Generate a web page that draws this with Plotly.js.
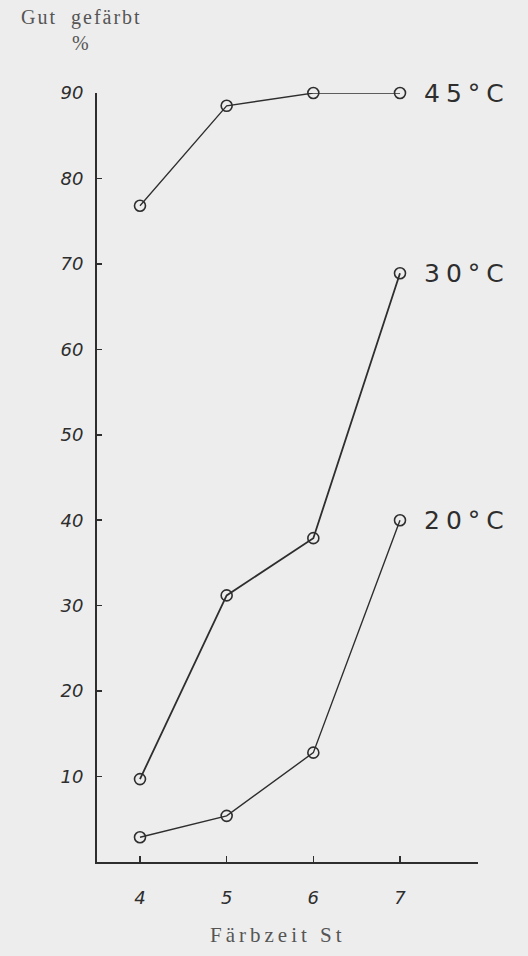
<!DOCTYPE html>
<html>
<head>
<meta charset="utf-8">
<script src="https://cdn.plot.ly/plotly-3.0.1.min.js"></script>
<style>
html,body{margin:0;padding:0;background:#ededed;}
.annotation-text.series{letter-spacing:6px;}
.annotation-text.ttl{letter-spacing:2px;}
.annotation-text.xttl{letter-spacing:4px;}
</style>
</head>
<body>
<div id="chart" style="width:528px;height:956px;"></div>
<script>
const hours = [4, 5, 6, 7];
const xTickLabels = ["4", "5", "6", "7"];
const yTickValues = [10, 20, 30, 40, 50, 60, 70, 80, 90];
const yTickLabels = ["10", "20", "30", "40", "50", "60", "70", "80", "90"];
const seriesNames = ["45°C", "30°C", "20°C"];
const dyed45 = [76.8, 88.5, 90, 90];
const dyed30 = [9.7, 31.2, 37.9, 68.9];
const dyed20 = [2.9, 5.4, 12.8, 40.0];
const yTitle = "Gut  gefärbt<br>%";
const xTitle = "Färbzeit St";

const ink = "#2e2e2e";
const hand = {family: "DejaVu Sans", size: 18, color: ink, style: "italic"};
function trace(y, w, name) {
  return {
    x: hours, y: y, name: name, type: "scatter", mode: "lines+markers",
    line: {color: ink, width: w},
    marker: {symbol: "circle-open", size: 11, color: ink, line: {width: 1.6, color: ink}},
    cliponaxis: false, showlegend: false, hoverinfo: "none"
  };
}
const data = [trace(dyed45, 1.3, seriesNames[0]), trace(dyed30, 1.8, seriesNames[1]), trace(dyed20, 1.4, seriesNames[2])];
const seriesVals = [dyed45, dyed30, dyed20];
const annotations = seriesNames.map((n, i) => ({
  x: hours[3], y: seriesVals[i][3], xref: "x", yref: "y", text: n, showarrow: false,
  xanchor: "left", yanchor: "middle", xshift: 34,
  font: {family: "DejaVu Sans", size: 25, color: ink}
}));
annotations.push({
  x: -0.04, y: 1.082, xref: "paper", yref: "paper", text: yTitle, showarrow: false,
  xanchor: "center", yanchor: "middle", align: "center",
  font: {family: "Liberation Serif", size: 20, color: "#555"}
});
annotations.push({
  x: 0.475, y: -0.095, xref: "paper", yref: "paper", text: xTitle, showarrow: false,
  xanchor: "center", yanchor: "middle",
  font: {family: "Liberation Serif", size: 21, color: "#555"}
});
const layout = {
  width: 528, height: 956,
  paper_bgcolor: "#ededed", plot_bgcolor: "#ededed",
  margin: {l: 97, r: 50, t: 93, b: 94},
  xaxis: {
    range: [3.504, 7.9], tickvals: hours, ticktext: xTickLabels,
    showgrid: false, zeroline: false, showline: true, linecolor: ink, linewidth: 2,
    ticks: "inside", ticklen: 6, tickwidth: 1.5, tickcolor: ink,
    tickfont: hand, ticklabelstandoff: 18
  },
  yaxis: {
    range: [0, 90], tickvals: yTickValues, ticktext: yTickLabels,
    showgrid: false, zeroline: false, showline: true, linecolor: ink, linewidth: 2,
    ticks: "inside", ticklen: 5, tickwidth: 1.5, tickcolor: ink,
    tickfont: hand, ticklabelstandoff: 8
  },
  annotations: annotations
};
Plotly.newPlot("chart", data, layout, {displayModeBar: false, staticPlot: true}).then(() => {
  const t = document.querySelectorAll(".annotation-text");
  t.forEach((el, i) => { el.classList.add(i < 3 ? "series" : (i === 3 ? "ttl" : "xttl")); });
});
</script>
</body>
</html>
